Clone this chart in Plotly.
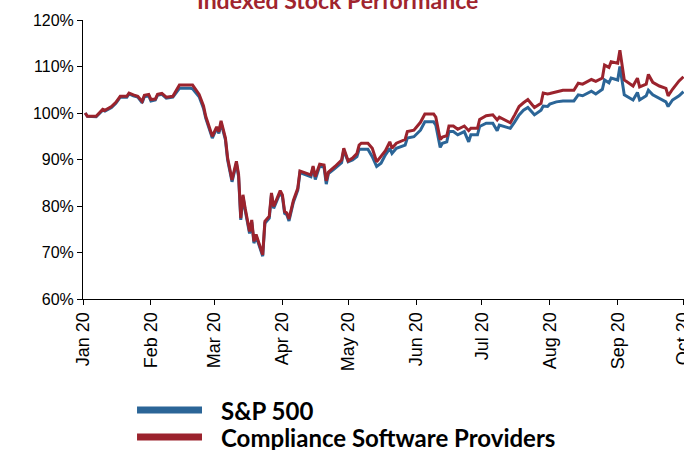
import plotly.graph_objects as go

dates = [
    "2020-01-02", "2020-01-03", "2020-01-07", "2020-01-10", "2020-01-11", "2020-01-14", "2020-01-16",
    "2020-01-18", "2020-01-21", "2020-01-22", "2020-01-24", "2020-01-26", "2020-01-28", "2020-01-29",
    "2020-01-31", "2020-02-01", "2020-02-03", "2020-02-04", "2020-02-06", "2020-02-08", "2020-02-11",
    "2020-02-14", "2020-02-19", "2020-02-20", "2020-02-23", "2020-02-25", "2020-02-26", "2020-02-29",
    "2020-03-02", "2020-03-03", "2020-03-04", "2020-03-06", "2020-03-07", "2020-03-09", "2020-03-11",
    "2020-03-12", "2020-03-13", "2020-03-14", "2020-03-15", "2020-03-17", "2020-03-18", "2020-03-19",
    "2020-03-20", "2020-03-21", "2020-03-23", "2020-03-24", "2020-03-26", "2020-03-27", "2020-03-28",
    "2020-03-29", "2020-03-31", "2020-04-01", "2020-04-02", "2020-04-03", "2020-04-04", "2020-04-06",
    "2020-04-07", "2020-04-08", "2020-04-09", "2020-04-12", "2020-04-14", "2020-04-15", "2020-04-16",
    "2020-04-18", "2020-04-20", "2020-04-21", "2020-04-22", "2020-04-25", "2020-04-28", "2020-04-29",
    "2020-05-01", "2020-05-03", "2020-05-05", "2020-05-06", "2020-05-07", "2020-05-10", "2020-05-12",
    "2020-05-14", "2020-05-16", "2020-05-18", "2020-05-20", "2020-05-21", "2020-05-23", "2020-05-27",
    "2020-05-28", "2020-05-31", "2020-06-03", "2020-06-04", "2020-06-05", "2020-06-09", "2020-06-10",
    "2020-06-12", "2020-06-13", "2020-06-15", "2020-06-16", "2020-06-18", "2020-06-20", "2020-06-23",
    "2020-06-25", "2020-06-26", "2020-06-29", "2020-06-30", "2020-07-03", "2020-07-06", "2020-07-08",
    "2020-07-09", "2020-07-11", "2020-07-14", "2020-07-16", "2020-07-18", "2020-07-20", "2020-07-22",
    "2020-07-25", "2020-07-28", "2020-07-29", "2020-07-31", "2020-08-01", "2020-08-04", "2020-08-07",
    "2020-08-12", "2020-08-14", "2020-08-16", "2020-08-20", "2020-08-22", "2020-08-25", "2020-08-26",
    "2020-08-28", "2020-08-29", "2020-09-01", "2020-09-02", "2020-09-04", "2020-09-08", "2020-09-10",
    "2020-09-11", "2020-09-14", "2020-09-15", "2020-09-17", "2020-09-20", "2020-09-23", "2020-09-24",
    "2020-09-26", "2020-09-29", "2020-10-01",
]

sp500 = [
    100.0, 99.3, 99.2, 100.6, 100.4, 101.2, 102.1,
    103.4, 103.4, 104.1, 103.7, 103.4, 102.2, 103.5,
    103.7, 102.6, 102.8, 103.8, 104.0, 103.2, 103.4,
    105.3, 105.3, 105.2, 103.5, 101.0, 98.9, 94.6,
    96.7, 95.6, 97.9, 94.2, 89.9, 85.2, 89.2,
    86.3, 77.0, 82.0, 79.1, 74.1, 76.6, 72.0,
    73.5, 72.0, 69.2, 76.3, 77.4, 82.4, 79.5,
    80.6, 82.9, 82.0, 78.4, 78.1, 76.8, 80.8,
    82.3, 83.4, 87.2, 86.7, 86.3, 88.3, 85.7,
    88.6, 88.3, 84.7, 87.0, 88.1, 89.3, 92.0,
    89.5, 89.9, 90.6, 92.2, 92.2, 92.2, 90.6,
    88.5, 89.2, 91.0, 92.4, 91.3, 92.4, 93.1,
    94.6, 94.9, 96.3, 97.4, 98.1, 98.1, 97.4,
    92.6, 93.5, 93.8, 96.0, 96.0, 95.3, 96.0,
    93.8, 95.3, 95.3, 97.1, 97.8, 97.8, 96.2,
    97.4, 97.1, 96.7, 98.1, 99.6, 100.6, 101.2,
    99.6, 100.6, 101.5, 101.4, 101.9, 102.4, 102.6,
    102.6, 103.9, 103.7, 104.7, 104.1, 105.1, 107.1,
    106.5, 107.5, 107.1, 110.0, 103.9, 102.8, 104.4,
    102.8, 103.7, 104.9, 103.9, 103.2, 102.4, 101.4,
    102.8, 103.7, 104.6,
]

compliance = [
    100.0, 99.3, 99.3, 100.8, 100.6, 101.4, 102.3,
    103.6, 103.6, 104.3, 103.9, 103.6, 102.5, 103.8,
    104.0, 102.9, 103.0, 104.0, 104.2, 103.4, 103.6,
    106.0, 106.0, 106.0, 104.0, 101.5, 99.3, 95.0,
    97.0, 96.0, 98.3, 94.6, 90.3, 85.6, 89.6,
    86.8, 77.4, 82.4, 79.5, 74.5, 77.0, 72.4,
    73.9, 72.3, 69.5, 76.7, 77.8, 82.8, 79.9,
    81.0, 83.3, 82.4, 78.8, 78.5, 77.2, 81.2,
    82.7, 83.8, 87.5, 87.0, 86.7, 88.6, 86.3,
    89.0, 88.8, 85.4, 87.3, 88.5, 89.9, 92.4,
    89.7, 90.3, 91.3, 93.1, 93.5, 93.5, 92.4,
    89.5, 90.6, 91.9, 93.8, 92.4, 93.5, 94.3,
    96.0, 96.3, 98.0, 99.1, 99.8, 99.8, 99.1,
    94.3, 94.8, 95.1, 97.2, 97.2, 96.5, 97.2,
    96.2, 96.7, 96.7, 98.6, 99.4, 99.6, 98.5,
    99.1, 98.6, 97.9, 99.6, 101.4, 102.2, 102.9,
    101.2, 102.1, 104.3, 104.1, 104.2, 104.6, 104.9,
    104.9, 106.4, 106.2, 107.2, 106.8, 107.5, 110.3,
    109.8, 111.0, 110.7, 113.5, 107.1, 105.8, 107.5,
    105.6, 106.2, 108.3, 106.6, 105.8, 105.3, 103.7,
    105.1, 106.9, 107.8,
]

series_names = ["S&P 500", "Compliance Software Providers"]
series_colors = ["#2B6597", "#9B232D"]
title_text = "Indexed Stock Performance"
y_ticks = [60, 70, 80, 90, 100, 110, 120]
y_tick_labels = [f"{v}%" for v in y_ticks]

fig = go.Figure()
for name, vals, col in zip(series_names, [sp500, compliance], series_colors):
    fig.add_trace(go.Scatter(x=dates, y=vals, mode="lines", name=name,
                             line=dict(color=col, width=3), showlegend=False))

# custom legend (long thick line samples)
leg_y = [-0.398, -0.495]
for name, col, ly in zip(series_names, series_colors, leg_y):
    fig.add_shape(type="line", xref="paper", yref="paper", x0=0.0899, x1=0.198,
                  y0=ly, y1=ly, line=dict(color=col, width=7))
    fig.add_annotation(xref="paper", yref="paper", x=0.226, y=ly, text=name,
                       showarrow=False, xanchor="left", yanchor="middle",
                       font=dict(family="Lato", size=24, color="black", weight="bold"))

fig.add_annotation(xref="paper", yref="paper", x=0.424, y=1.0717, text=title_text,
                   showarrow=False, xanchor="center", yanchor="middle",
                   font=dict(family="Lato", size=23, color="#A0242E", weight="bold"))

fig.update_layout(
    width=684, height=450,
    margin=dict(l=83, r=0, t=20, b=151),
    plot_bgcolor="white", paper_bgcolor="white",
    showlegend=False,
)
fig.update_xaxes(
    type="date", range=["2020-01-01", "2020-10-01 06:00"], automargin=False,
    dtick="M1", tick0="2020-01-01", tickformat="%b %y", tickangle=-90,
    ticklabeloverflow="allow",
    showgrid=False, showline=True, linecolor="black", linewidth=1,
    ticks="outside", ticklen=5, tickcolor="black",
    tickfont=dict(family="Liberation Sans, Arial, sans-serif", size=18, color="black"),
)
fig.update_yaxes(
    range=[60, 120], tickvals=y_ticks, ticktext=y_tick_labels, automargin=False,
    showgrid=False, zeroline=False, showline=True, linecolor="black", linewidth=1,
    ticks="outside", ticklen=5, tickcolor="black",
    tickfont=dict(family="Liberation Sans, Arial, sans-serif", size=16, color="black"),
)

fig.write_html("out.html", config={"displayModeBar": False},
               post_script="document.body.style.margin='0';document.body.style.overflow='hidden';")
